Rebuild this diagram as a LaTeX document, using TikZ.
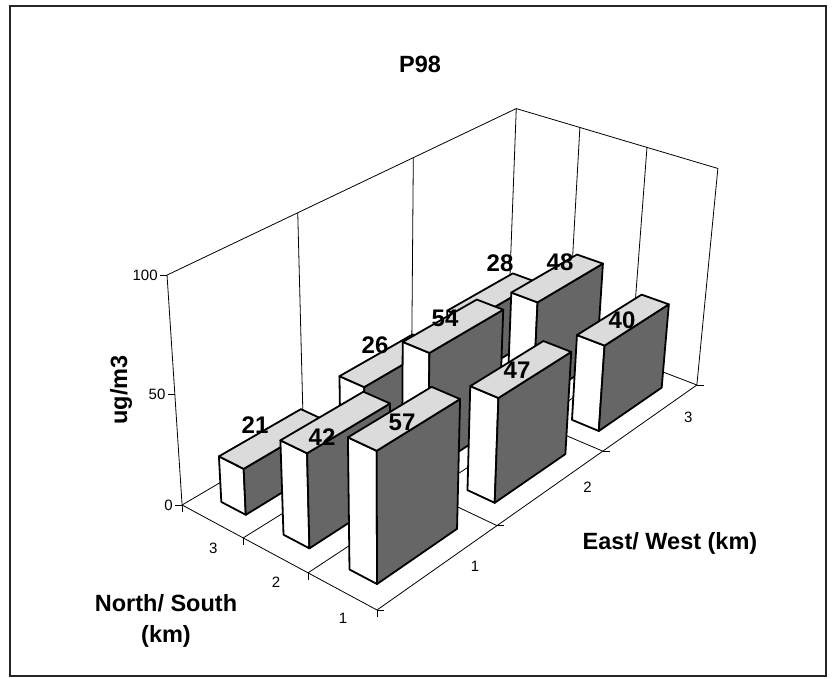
\documentclass[tikz,border=0pt]{standalone}
\usepackage{fontspec}
\setmainfont{Liberation Sans}
\usetikzlibrary{calc}
\newcommand\proj[4]{% name, east, north, height (0..1)
  \pgfmathsetmacro\projw{1+0.0667*(#2)+0.0317*(#3)-0.0757*(#4)}%
  \pgfmathsetmacro\projx{(377+153.1*(#2)-59.2*(#3)-29.14*(#4))/\projw}%
  \pgfmathsetmacro\projy{(610-49.33*(#2)-19.0*(#3)-272.6*(#4))/\projw}%
  \coordinate (#1) at (\projx,\projy);%
}
\newcommand\slab[4]{% name, east cell, north cell, value
  \pgfmathsetmacro\slabea{#2-0.833}%
  \pgfmathsetmacro\slabeb{#2-0.167}%
  \pgfmathsetmacro\slabna{#3-0.7}%
  \pgfmathsetmacro\slabnb{#3-0.3}%
  \pgfmathsetmacro\slabh{#4/100}%
  \proj{#1p1}{\slabea}{\slabna}{0}
  \proj{#1p2}{\slabeb}{\slabna}{0}
  \proj{#1p3}{\slabea}{\slabnb}{0}
  \proj{#1q1}{\slabea}{\slabna}{\slabh}
  \proj{#1q2}{\slabeb}{\slabna}{\slabh}
  \proj{#1q3}{\slabea}{\slabnb}{\slabh}
  \proj{#1q4}{\slabeb}{\slabnb}{\slabh}
  \filldraw[barwhite] (#1p3) -- (#1p1) -- (#1q1) -- (#1q3) -- cycle;
  \filldraw[bardark] (#1p1) -- (#1p2) -- (#1q2) -- (#1q1) -- cycle;
  \filldraw[bartop] (#1q1) -- (#1q2) -- (#1q4) -- (#1q3) -- cycle;
}
\tikzset{
  chartframe/.style={draw=black!85, line width=1.2pt},
  gridline/.style={line width=0.8pt},
  barface/.style={draw=black, line width=1.8pt, line join=round},
  barwhite/.style={barface, fill=white},
  bardark/.style={barface, fill=black!60},
  bartop/.style={barface, fill=black!14},
  ticklab/.style={font=\fontsize{15}{18}\selectfont, inner sep=2pt},
  vallab/.style={font=\bfseries\fontsize{24}{28}\selectfont, inner sep=0pt},
  axlab/.style={font=\bfseries\fontsize{23.5}{31}\selectfont, align=center, inner sep=0pt},
}

\begin{document}
\begin{tikzpicture}[x=1pt,y=-1pt]
\useasboundingbox (0,0) rectangle (832,678);
\draw[chartframe] (10,6) rectangle (826,676);
\node[axlab] (title) at (420,64) {P98};
%
% floor and walls
\proj{F}{0}{0}{0}
\proj{L}{0}{3}{0}
\proj{R}{3}{0}{0}
\proj{B}{3}{3}{0}
\proj{Lt}{0}{3}{1}
\proj{Lm}{0}{3}{0.5}
\proj{Bt}{3}{3}{1}
\proj{Rt}{3}{0}{1}
\proj{we1}{1}{3}{0}
\proj{we1t}{1}{3}{1}
\proj{we2}{2}{3}{0}
\proj{we2t}{2}{3}{1}
\proj{wn1}{3}{1}{0}
\proj{wn1t}{3}{1}{1}
\proj{wn2}{3}{2}{0}
\proj{wn2t}{3}{2}{1}
\proj{fe1}{1}{0}{0}
\proj{fe2}{2}{0}{0}
\proj{fn1}{0}{1}{0}
\proj{fn2}{0}{2}{0}
\draw[gridline] (L) -- (Lt) -- (Bt) -- (Rt) -- (R);
\draw[gridline] (L) -- (B) -- (R);
\draw[gridline] (B) -- (Bt);
\draw[gridline] (we1) -- (we1t);
\draw[gridline] (we2) -- (we2t);
\draw[gridline] (wn1) -- (wn1t);
\draw[gridline] (wn2) -- (wn2t);
\draw[gridline] (fe1) -- (we1);
\draw[gridline] (fe2) -- (we2);
\draw[gridline] (fn1) -- (wn1);
\draw[gridline] (fn2) -- (wn2);
\draw[gridline] (L) -- (F) -- (R);
%
% ticks
\draw[gridline] (L) -- ++(-7,0) node[ticklab, left] (v0) {0};
\draw[gridline] (Lm) -- ++(-7,0) node[ticklab, left] (v50) {50};
\draw[gridline] (Lt) -- ++(-7,0) node[ticklab, left] (v100) {100};
\draw[gridline] (L) -- ++(0,7);
\draw[gridline] (fn2) -- ++(0,7);
\draw[gridline] (fn1) -- ++(0,7);
\draw[gridline] (F) -- ++(0,7);
\draw[gridline] (F) -- ++(7,0);
\draw[gridline] (fe1) -- ++(7,0);
\draw[gridline] (fe2) -- ++(7,0);
\draw[gridline] (R) -- ++(7,0);
\proj{mn3}{0}{2.5}{0}
\proj{mn2}{0}{1.5}{0}
\proj{mn1}{0}{0.5}{0}
\proj{me1}{0.5}{0}{0}
\proj{me2}{1.5}{0}{0}
\proj{me3}{2.5}{0}{0}
\node[ticklab] (ns3) at ($(mn3)+(1,27)$) {3};
\node[ticklab] (ns2) at ($(mn2)+(1,27)$) {2};
\node[ticklab] (ns1) at ($(mn1)+(1,27)$) {1};
\node[ticklab] (ew1) at ($(me1)+(36,0)$) {1};
\node[ticklab] (ew2) at ($(me2)+(36,0)$) {2};
\node[ticklab] (ew3) at ($(me3)+(37,0)$) {3};
%
% bars, back row first
\slab{b28}{3}{3}{28}
\slab{b26}{2}{3}{26}
\slab{b21}{1}{3}{21}
\slab{b48}{3}{2}{48}
\slab{b54}{2}{2}{54}
\slab{b42}{1}{2}{42}
\slab{b40}{3}{1}{40}
\slab{b47}{2}{1}{47}
\slab{b57}{1}{1}{57}
%
% values
\node[vallab] (n21) at (255,425) {21};
\node[vallab] (n26) at (375,345) {26};
\node[vallab] (n28) at (500,263) {28};
\node[vallab] (n42) at (322,437) {42};
\node[vallab] (n54) at (445,318) {54};
\node[vallab] (n48) at (560,262) {48};
\node[vallab] (n57) at (402,422) {57};
\node[vallab] (n47) at (517,370) {47};
\node[vallab] (n40) at (622,320) {40};
%
% axis titles
\node[axlab, rotate=90] (zlab) at (121,390) {ug/m3};
\node[axlab] (nslab) at (166,621) {North/ South\\(km)};
\node[axlab] (ewlab) at (670,543) {East/ West (km)};
\end{tikzpicture}
\end{document}
